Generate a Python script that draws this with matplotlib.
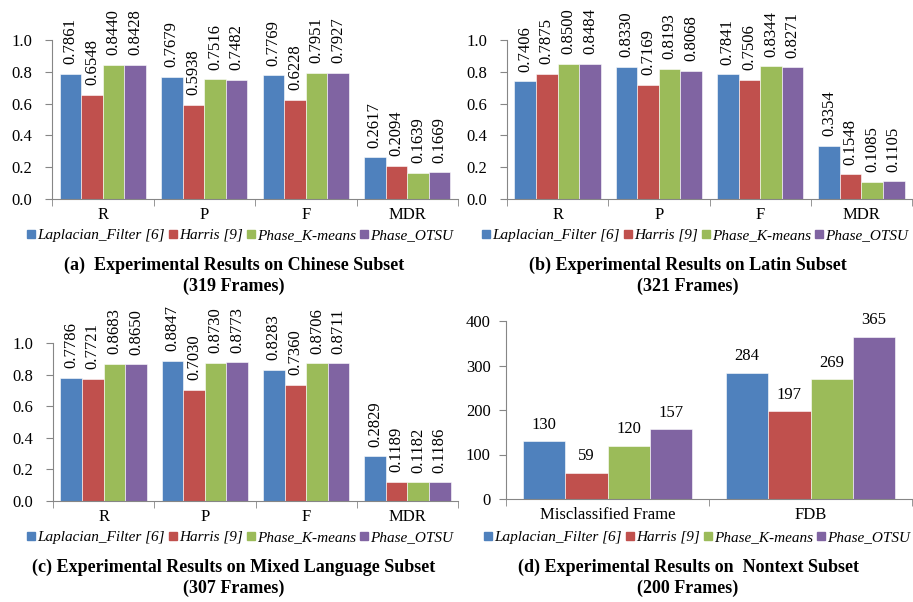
import matplotlib.pyplot as plt
from matplotlib.lines import Line2D
import numpy as np

plt.rcParams['font.family'] = ['Liberation Serif', 'DejaVu Serif']

methods = ['Laplacian_Filter [6]', 'Harris [9]', 'Phase_K-means', 'Phase_OTSU']
colors = ['#4F81BD', '#C0504D', '#9BBB59', '#8064A2']

metrics = ['R', 'P', 'F', 'MDR']

# rows: methods, columns: R, P, F, MDR
chinese = [
    [0.7861, 0.7679, 0.7769, 0.2617],
    [0.6548, 0.5938, 0.6228, 0.2094],
    [0.8440, 0.7516, 0.7951, 0.1639],
    [0.8428, 0.7482, 0.7927, 0.1669],
]
latin = [
    [0.7406, 0.8330, 0.7841, 0.3354],
    [0.7875, 0.7169, 0.7506, 0.1548],
    [0.8500, 0.8193, 0.8344, 0.1085],
    [0.8484, 0.8068, 0.8271, 0.1105],
]
mixed = [
    [0.7786, 0.8847, 0.8283, 0.2829],
    [0.7721, 0.7030, 0.7360, 0.1189],
    [0.8683, 0.8730, 0.8706, 0.1182],
    [0.8650, 0.8773, 0.8711, 0.1186],
]

nontext_cats = ['Misclassified Frame', 'FDB']
nontext = [
    [130, 284],
    [59, 197],
    [120, 269],
    [157, 365],
]

titles = [
    '(a)  Experimental Results on Chinese Subset\n(319 Frames)',
    '(b) Experimental Results on Latin Subset\n(321 Frames)',
    '(c) Experimental Results on Mixed Language Subset\n(307 Frames)',
    '(d) Experimental Results on  Nontext Subset\n(200 Frames)',
]

W, H = 913, 602
fig = plt.figure(figsize=(W / 100, H / 100), dpi=100)


def px_axes(x0, x1, ytop, ybot):
    return fig.add_axes([x0 / W, 1 - ybot / H, (x1 - x0) / W, (ybot - ytop) / H])


def draw_panel(ax, cats, data, ymax, ystep, fmt, rotated, bw, ypad):
    n = len(cats)
    x = np.arange(n)
    for i, vals in enumerate(data):
        bars = ax.bar(x + (i - 1.5) * bw, vals, bw, color=colors[i],
                      edgecolor='white', linewidth=0.4, zorder=2)
        if rotated:
            ax.bar_label(bars, fmt=fmt, rotation=90, padding=7,
                         fontsize=12, clip_on=False)
        else:
            ax.bar_label(bars, fmt=fmt, padding=6, fontsize=12, clip_on=False)
    ax.set_xlim(-0.5, n - 0.5)
    ax.set_ylim(0, ymax)
    ax.set_yticks(np.arange(0, ymax + ystep / 2, ystep))
    if ymax <= 1:
        ax.set_yticklabels([f'{v:.1f}' for v in ax.get_yticks()])
    ax.set_xticks(x)
    ax.set_xticklabels(cats)
    ax.set_xticks(np.arange(-0.5, n), minor=True)
    ax.tick_params(axis='x', which='major', length=0, pad=6, labelsize=12)
    ax.tick_params(axis='x', which='minor', length=5, color='#868686')
    ax.tick_params(axis='y', length=5, color='#868686', labelsize=12, pad=ypad)
    for s in ['top', 'right']:
        ax.spines[s].set_visible(False)
    for s in ['left', 'bottom']:
        ax.spines[s].set_color('#868686')


handles = [Line2D([], [], marker='s', linestyle='none', markersize=5.5,
                  color=c) for c in colors]


def add_legend(xc, yc):
    fig.legend(handles, methods, loc='center', bbox_to_anchor=(xc / W, 1 - yc / H),
               ncol=4, frameon=False, handletextpad=0.0, columnspacing=0.15,
               handlelength=0.8, borderaxespad=0, borderpad=0,
               prop={'family': 'Liberation Serif', 'style': 'italic', 'size': 11})


ax_a = px_axes(52, 458, 40, 199)
draw_panel(ax_a, metrics, chinese, 1.0, 0.2, '%.4f', True, 0.213, 9)
ax_b = px_axes(507, 912, 40, 199)
draw_panel(ax_b, metrics, latin, 1.0, 0.2, '%.4f', True, 0.213, 9)
ax_c = px_axes(53, 458, 343, 501)
draw_panel(ax_c, metrics, mixed, 1.0, 0.2, '%.4f', True, 0.213, 9)
ax_d = px_axes(506, 912, 321, 499)
draw_panel(ax_d, nontext_cats, nontext, 400, 100, '%d', False, 0.208, 6)

add_legend(239, 235)
add_legend(694, 235)
add_legend(239, 537)
add_legend(696, 537)

for (xc, yc), t in zip([(234, 276), (688, 276), (234, 578), (688, 578)], titles):
    fig.text(xc / W, 1 - yc / H, t, ha='center', va='center', fontsize=13,
             fontweight='bold', linespacing=1.25)

fig.savefig('out.png', dpi=100)
